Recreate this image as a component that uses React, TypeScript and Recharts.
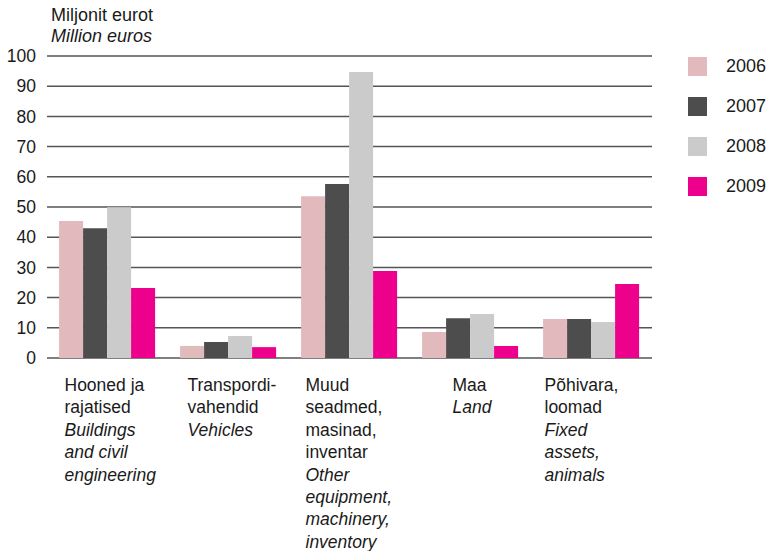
import React from 'react';
import { BarChart, Bar, XAxis, YAxis, CartesianGrid } from 'recharts';

const FONT = '"Liberation Sans", Arial, sans-serif';

// Category labels: Estonian lines (regular) + English lines (italic)
const labelsEt = [
  ['Hooned ja', 'rajatised'],
  ['Transpordi-', 'vahendid'],
  ['Muud', 'seadmed,', 'masinad,', 'inventar'],
  ['Maa'],
  ['Põhivara,', 'loomad'],
];
const labelsEn = [
  ['Buildings', 'and civil', 'engineering'],
  ['Vehicles'],
  ['Other', 'equipment,', 'machinery,', 'inventory'],
  ['Land'],
  ['Fixed', 'assets,', 'animals'],
];

const years = ['2006', '2007', '2008', '2009'];
const colors = ['#E2B9BC', '#4D4D4D', '#CBCBCB', '#EC008C'];

const v2006 = [45.4, 4.0, 53.6, 8.6, 12.9];
const v2007 = [43.0, 5.3, 57.6, 13.2, 12.9];
const v2008 = [49.9, 7.3, 94.7, 14.6, 11.9];
const v2009 = [23.2, 3.6, 28.8, 4.0, 24.5];

const yTicks = [0, 10, 20, 30, 40, 50, 60, 70, 80, 90, 100];

const data = labelsEt.map((_, i) => ({
  cat: String(i),
  '2006': v2006[i],
  '2007': v2007[i],
  '2008': v2008[i],
  '2009': v2009[i],
}));

// Maa label sits further right than the rest
const labelShift = [-43, -41, -44, -18, -47];

function CategoryTick(props: any) {
  const { x, y, payload } = props;
  const i = Number(payload.value);
  const lines = [
    ...labelsEt[i].map((t) => ({ t, it: false })),
    ...labelsEn[i].map((t) => ({ t, it: true })),
  ];
  return (
    <text x={x + labelShift[i]} y={y} fontFamily={FONT} fontSize={17.5} fill="#1a1a1a">
      {lines.map((l, k) => (
        <tspan
          key={k}
          x={x + labelShift[i]}
          y={y + 33 + k * 22.4}
          fontStyle={l.it ? 'italic' : 'normal'}
        >
          {l.t}
        </tspan>
      ))}
    </text>
  );
}

export default function App() {
  return (
    <div style={{ position: 'absolute', left: 0, top: 0, width: 767, height: 551, background: '#fff' }}>
      <div
        style={{
          position: 'absolute',
          left: 51,
          top: 5,
          fontFamily: FONT,
          fontSize: 18,
          lineHeight: '21px',
          color: '#1a1a1a',
        }}
      >
        <div>Miljonit eurot</div>
        <div style={{ fontStyle: 'italic' }}>Million euros</div>
      </div>
      <div
        style={{
          position: 'absolute',
          left: 688,
          top: 47,
          fontFamily: FONT,
          fontSize: 18,
          color: '#1a1a1a',
        }}
      >
        {years.map((yr, i) => (
          <div key={yr} style={{ display: 'flex', alignItems: 'center', height: 39.8 }}>
            <div style={{ width: 19, height: 19, background: colors[i], marginRight: 19 }} />
            <span>{yr}</span>
          </div>
        ))}
      </div>
      <BarChart
        width={767}
        height={551}
        data={data}
        margin={{ top: 56, right: 115, left: 0, bottom: 0 }}
        barCategoryGap="10%"
        barGap={0}
      >
        <CartesianGrid horizontal vertical={false} stroke="#555" strokeWidth={1.5} />
        <XAxis
          dataKey="cat"
          height={193}
          axisLine={false}
          tickLine={false}
          tickSize={0}
          tickMargin={0}
          interval={0}
          tick={<CategoryTick />}
        />
        <YAxis
          width={47}
          domain={[0, 100]}
          ticks={yTicks}
          axisLine={false}
          tickLine={false}
          tickMargin={5}
          tick={{ fill: '#1a1a1a', fontSize: 17.5, fontFamily: FONT }}
        />
        {years.map((yr, i) => (
          <Bar key={yr} dataKey={yr} fill={colors[i]} isAnimationActive={false} />
        ))}
      </BarChart>
    </div>
  );
}
